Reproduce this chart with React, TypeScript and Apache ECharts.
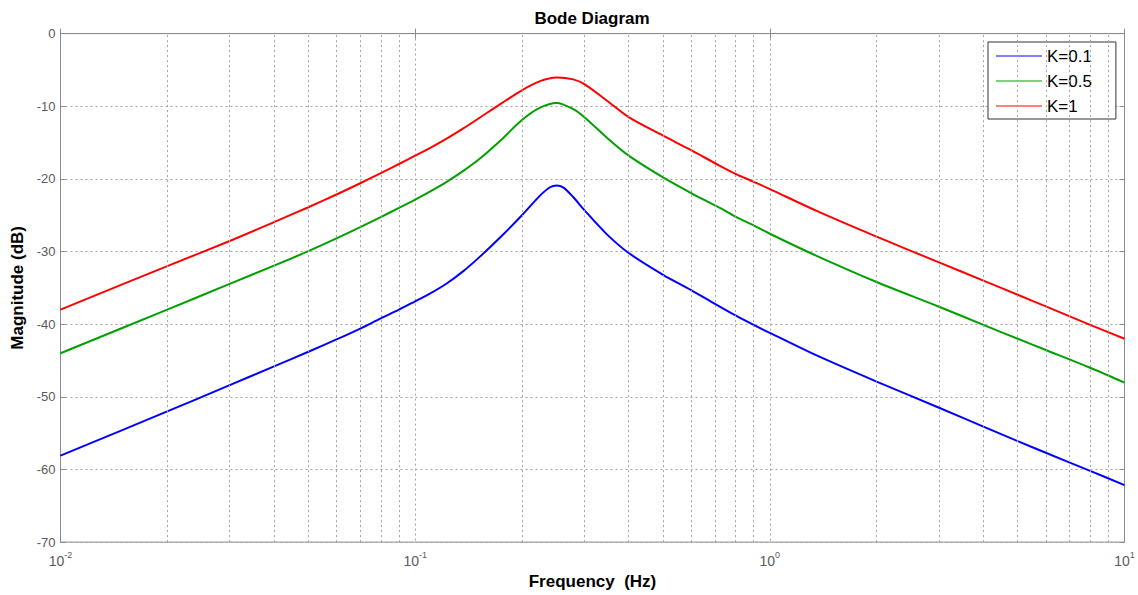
import React, { useEffect, useRef } from 'react';
import * as echarts from 'echarts';

// ---- data ----
const seriesNames = ['K=0.1', 'K=0.5', 'K=1'];

const k01Freq = [0.01, 0.02, 0.03, 0.04, 0.05, 0.06, 0.07, 0.08, 0.09, 0.1, 0.11, 0.1227, 0.1367, 0.1523, 0.175, 0.2, 0.2249, 0.24, 0.2506, 0.262, 0.279, 0.3, 0.3467, 0.4, 0.5, 0.6, 0.7, 0.8, 0.9, 1, 1.355, 2, 3, 4, 5, 6, 8, 10];
const k01Db = [-58.1, -52.0, -48.4, -45.8, -43.8, -42.1, -40.6, -39.2, -38.0, -36.85, -35.8, -34.4, -32.7, -30.7, -27.9, -25.0, -22.3, -21.15, -20.9, -21.2, -22.5, -24.3, -27.6, -30.2, -33.2, -35.3, -37.2, -38.8, -40.1, -41.2, -44.3, -47.9, -51.5, -54.1, -56.1, -57.7, -60.2, -62.15];

const k05Freq = [0.01, 0.02, 0.03, 0.04, 0.05, 0.06, 0.07, 0.08, 0.09, 0.1, 0.11, 0.1227, 0.1367, 0.1523, 0.175, 0.2, 0.225, 0.2506, 0.279, 0.3, 0.3467, 0.4, 0.5, 0.6, 0.723, 0.8, 0.9, 1, 1.355, 2, 3, 4, 5, 6, 8, 10];
const k05Db = [-44.0, -38.0, -34.45, -31.95, -29.95, -28.2, -26.65, -25.25, -24.0, -22.85, -21.75, -20.4, -18.9, -17.2, -14.6, -11.9, -10.2, -9.55, -10.4, -11.5, -14.3, -16.8, -19.8, -21.95, -24.0, -25.2, -26.4, -27.55, -30.6, -34.2, -37.6, -40.1, -42.0, -43.55, -46.0, -48.05];

const k1Freq = [0.01, 0.02, 0.03, 0.04, 0.05, 0.06, 0.07, 0.08, 0.09, 0.1, 0.11, 0.1227, 0.1367, 0.1523, 0.175, 0.2, 0.225, 0.2506, 0.279, 0.3, 0.3467, 0.4, 0.5, 0.6, 0.723, 0.8, 0.9, 1, 1.355, 2, 3, 4, 5, 6, 8, 10];
const k1Db = [-38.0, -32.0, -28.55, -25.95, -23.9, -22.15, -20.6, -19.2, -17.95, -16.8, -15.75, -14.45, -13.05, -11.55, -9.6, -7.8, -6.55, -6.05, -6.3, -6.95, -9.2, -11.5, -14.05, -16.05, -18.2, -19.3, -20.4, -21.4, -24.4, -27.95, -31.5, -34.0, -35.95, -37.55, -40.1, -42.0];

const minorGridFreqs = [
  0.02, 0.03, 0.04, 0.05, 0.06, 0.07, 0.08, 0.09,
  0.2, 0.3, 0.4, 0.5, 0.6, 0.7, 0.8, 0.9,
  2, 3, 4, 5, 6, 7, 8, 9,
];

const yMin = -70;
const yMax = 0;
const yStep = 10;
const xMin = 0.01;
const xMax = 10;

const zip = (xs: number[], ys: number[]) => xs.map((x, i) => [x, ys[i]]);

const FONT = 'Arial, "Liberation Sans", Helvetica, sans-serif';
const GRID_COLOR = '#a3a3a3';
const AXIS_COLOR = '#8c8c8c';
const LABEL_COLOR = '#5a5a5a';

export default function App() {
  const ref = useRef<HTMLDivElement>(null);

  useEffect(() => {
    if (!ref.current) return;
    const chart = echarts.init(ref.current, undefined, { renderer: 'svg' });

    const gridDash = { color: GRID_COLOR, width: 1, type: [2, 3] as number[] };

    const curve = (name: string, data: number[][], color: string) => ({
      name,
      type: 'line',
      data,
      showSymbol: false,
      smooth: 0.3,
      z: 3,
      color,
      lineStyle: { color, width: 2 },
    });

    const option: any = {
      animation: false,
      backgroundColor: '#ffffff',
      textStyle: { fontFamily: FONT },
      graphic: [
        {
          type: 'text',
          x: 592,
          y: 18,
          style: {
            text: 'Bode Diagram',
            fontFamily: FONT,
            fontSize: 17,
            fontWeight: 'bold',
            fill: '#000',
            align: 'center',
            verticalAlign: 'middle',
          },
        },
      ],
      grid: {
        left: 60.5,
        right: 13.5,
        top: 33.6,
        bottom: 50.5,
        show: true,
        borderColor: AXIS_COLOR,
        borderWidth: 1,
        backgroundColor: '#ffffff',
      },
      legend: {
        data: seriesNames,
        orient: 'vertical',
        left: 988,
        top: 42,
        icon: 'rect',
        itemWidth: 46,
        itemHeight: 1,
        itemGap: 7,
        padding: [5, 24, 4, 8],
        borderColor: '#333',
        borderWidth: 1,
        backgroundColor: '#ffffff',
        textStyle: { fontFamily: FONT, fontSize: 17, lineHeight: 18, color: '#000' },
      },
      xAxis: [
        {
          type: 'log',
          logBase: 10,
          min: xMin,
          max: xMax,
          name: 'Frequency  (Hz)',
          nameLocation: 'middle',
          nameGap: 28,
          nameTextStyle: { fontFamily: FONT, fontSize: 17, fontWeight: 'bold', color: '#000' },
          axisLine: { show: true, lineStyle: { color: AXIS_COLOR } },
          axisTick: { show: true, inside: true, length: 5, lineStyle: { color: AXIS_COLOR } },
          splitLine: { show: true, lineStyle: gridDash },
          axisLabel: {
            margin: 8,
            color: LABEL_COLOR,
            formatter: (v: number) => {
              const e = Math.round(Math.log10(v));
              return `{b|10}{s|${e}}`;
            },
            rich: {
              b: { fontFamily: FONT, fontSize: 14, color: LABEL_COLOR, lineHeight: 18, verticalAlign: 'bottom' },
              s: { fontFamily: FONT, fontSize: 9, color: LABEL_COLOR, lineHeight: 18, verticalAlign: 'top' },
            },
          },
        },
        {
          type: 'log',
          logBase: 10,
          min: xMin,
          max: xMax,
          position: 'top',
          axisLine: { show: true, lineStyle: { color: AXIS_COLOR } },
          axisTick: { show: true, inside: true, length: 5, lineStyle: { color: AXIS_COLOR } },
          axisLabel: { show: false },
          splitLine: { show: false },
        },
      ],
      yAxis: [
        {
          type: 'value',
          min: yMin,
          max: yMax,
          interval: yStep,
          name: 'Magnitude (dB)',
          nameLocation: 'middle',
          nameGap: 31,
          nameTextStyle: { fontFamily: FONT, fontSize: 17, fontWeight: 'bold', color: '#000' },
          axisLine: { show: true, lineStyle: { color: AXIS_COLOR } },
          axisTick: { show: true, inside: true, length: 5, lineStyle: { color: AXIS_COLOR } },
          splitLine: { show: true, lineStyle: gridDash },
          axisLabel: { margin: 5, color: LABEL_COLOR, fontSize: 13, fontFamily: FONT },
        },
        {
          type: 'value',
          min: yMin,
          max: yMax,
          interval: yStep,
          position: 'right',
          axisLine: { show: true, lineStyle: { color: AXIS_COLOR } },
          axisTick: { show: true, inside: true, length: 5, lineStyle: { color: AXIS_COLOR } },
          axisLabel: { show: false },
          splitLine: { show: false },
        },
      ],
      series: [
        {
          name: '__grid',
          type: 'line',
          xAxisIndex: 0,
          yAxisIndex: 0,
          data: [],
          silent: true,
          z: 1,
          markLine: {
            silent: true,
            symbol: ['none', 'none'],
            label: { show: false },
            lineStyle: gridDash,
            emphasis: { disabled: true },
            data: minorGridFreqs.map((f) => ({ xAxis: f })),
          },
        },
        curve(seriesNames[0], zip(k01Freq, k01Db), '#0000ff'),
        curve(seriesNames[1], zip(k05Freq, k05Db), '#00a000'),
        curve(seriesNames[2], zip(k1Freq, k1Db), '#ff0000'),
      ],
    };

    chart.setOption(option);
    return () => chart.dispose();
  }, []);

  return (
    <div
      ref={ref}
      style={{ position: 'fixed', left: 0, top: 0, width: 1138, height: 595, background: '#fff' }}
    />
  );
}
